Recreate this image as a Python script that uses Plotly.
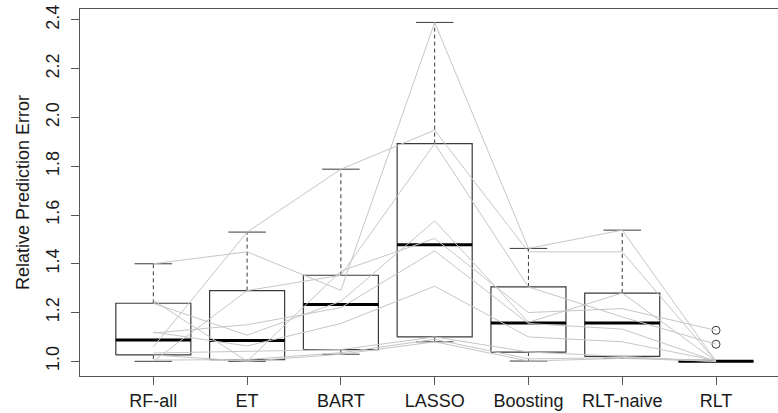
import plotly.graph_objects as go

# Methods (x categories)
methods = ["RF-all", "ET", "BART", "LASSO", "Boosting", "RLT-naive", "RLT"]

# Relative prediction error per method, one value per dataset (same dataset order in every list)
rf_all    = [1.400, 1.059, 1.000, 1.238, 1.026, 1.116, 1.120, 1.034, 1.005, 1.250]
et        = [1.449, 1.530, 1.290, 1.107, 1.000, 1.150, 1.063, 1.040, 1.007, 1.000]
bart      = [1.291, 1.788, 1.353, 1.246, 1.370, 1.220, 1.155, 1.048, 1.035, 1.029]
lasso     = [2.390, 1.948, 1.893, 1.576, 1.504, 1.453, 1.308, 1.100, 1.090, 1.080]
boosting  = [1.463, 1.449, 1.305, 1.160, 1.200, 1.155, 1.100, 1.038, 1.010, 1.001]
rlt_naive = [1.538, 1.449, 1.182, 1.280, 1.216, 1.132, 1.080, 1.020, 1.015, 1.012]
rlt       = [1.000, 1.000, 1.070, 1.000, 1.127, 1.000, 1.003, 1.000, 1.000, 1.000]

columns = [rf_all, et, bart, lasso, boosting, rlt_naive, rlt]

y_ticks = [1.0, 1.2, 1.4, 1.6, 1.8, 2.0, 2.2, 2.4]
y_ticktext = ["1.0", "1.2", "1.4", "1.6", "1.8", "2.0", "2.2", "2.4"]


def fivenum(vals):
    x = sorted(vals)
    n = len(x)
    n4 = ((n + 3) // 2) / 2.0
    d = [1, n4, (n + 1) / 2.0, n + 1 - n4, n]
    out = []
    for p in d:
        lo = int(p) - 1
        hi = int(-(-p // 1)) - 1
        out.append(0.5 * (x[lo] + x[hi]))
    return out


BOX_COL = "#3a3a3a"
LINE_COL = "#c6c6c6"
half = 0.4
cap = 0.2

fig = go.Figure()

for i, vals in enumerate(columns):
    pos = i + 1
    mn, q1, med, q3, mx = fivenum(vals)
    iqr = q3 - q1
    upper_fence = q3 + 1.5 * iqr
    lower_fence = q1 - 1.5 * iqr
    inside = [v for v in vals if lower_fence <= v <= upper_fence]
    outl = [v for v in vals if v < lower_fence or v > upper_fence]
    lo_w = min(inside)
    hi_w = max(inside)
    # whiskers (dashed)
    fig.add_trace(go.Scatter(x=[pos, pos, None, pos, pos], y=[q3, hi_w, None, q1, lo_w],
                             mode="lines", line=dict(color=BOX_COL, width=1, dash="4px,3px"),
                             hoverinfo="skip", showlegend=False))
    # caps
    fig.add_trace(go.Scatter(x=[pos - cap, pos + cap, None, pos - cap, pos + cap],
                             y=[hi_w, hi_w, None, lo_w, lo_w],
                             mode="lines", line=dict(color=BOX_COL, width=1),
                             hoverinfo="skip", showlegend=False))
    # box
    fig.add_trace(go.Scatter(x=[pos - half, pos + half, pos + half, pos - half, pos - half],
                             y=[q1, q1, q3, q3, q1],
                             mode="lines", line=dict(color=BOX_COL, width=1.2),
                             hoverinfo="skip", showlegend=False))
    # median
    fig.add_trace(go.Scatter(x=[pos - half, pos + half], y=[med, med],
                             mode="lines", line=dict(color="black", width=3),
                             hoverinfo="skip", showlegend=False))
    if outl:
        fig.add_trace(go.Scatter(x=[pos] * len(outl), y=outl, mode="markers",
                                 marker=dict(symbol="circle-open", size=8,
                                             color=BOX_COL, line=dict(width=1)),
                                 hoverinfo="skip", showlegend=False))

# per-dataset gray lines
n_sets = len(rf_all)
xs = list(range(1, len(methods) + 1))
for k in range(n_sets):
    fig.add_trace(go.Scatter(x=xs, y=[col[k] for col in columns], mode="lines",
                             line=dict(color=LINE_COL, width=1),
                             hoverinfo="skip", showlegend=False))

font = dict(family="Liberation Sans, Arial, sans-serif", size=18, color="#1a1a1a")

fig.update_layout(
    width=778, height=413,
    margin=dict(l=80, r=0, t=9, b=37, autoexpand=False),
    paper_bgcolor="white", plot_bgcolor="white",
    font=font,
    showlegend=False,
    xaxis=dict(range=[0.218, 7.661], tickmode="array", tickvals=xs, ticktext=methods,
               showgrid=False, zeroline=False, showline=True, mirror=True,
               linecolor="#555555", linewidth=1, ticks="outside", ticklen=8,
               tickcolor="#555555", tickfont=font, automargin=False),
    yaxis=dict(range=[0.9397, 2.445], tickmode="array", tickvals=y_ticks, ticktext=y_ticktext,
               tickangle=-90, showgrid=False, zeroline=False, showline=True, mirror=False,
               linecolor="#555555", linewidth=1, ticks="outside", ticklen=8,
               tickcolor="#555555", tickfont=font, ticklabelstandoff=5, automargin=False,
               ticklabeloverflow="allow",
               title=dict(text="Relative Prediction Error", font=font, standoff=8)),
)

fig.write_html("out.html", config={"displayModeBar": False},
               post_script="document.body.style.margin='0';document.body.style.padding='0';")
